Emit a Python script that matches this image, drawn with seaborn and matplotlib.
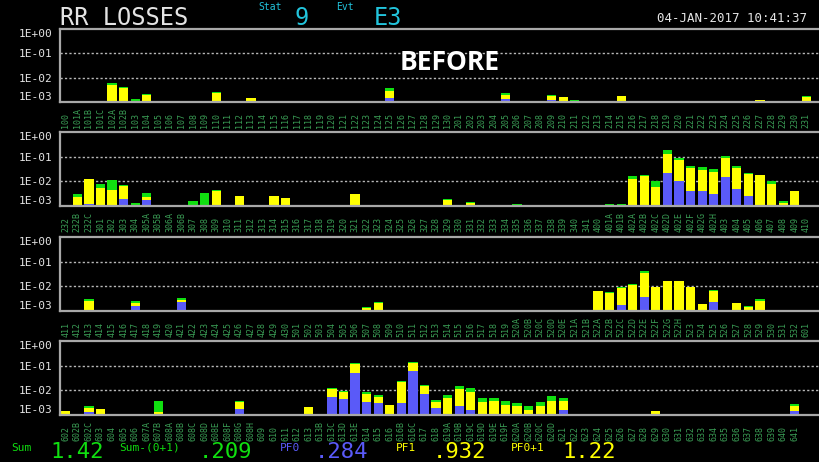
import numpy as np
import pandas as pd
import matplotlib
matplotlib.use("Agg")
import matplotlib.pyplot as plt
from matplotlib.ticker import NullLocator
import seaborn as sns


def seq(a, b):
    return [str(i) for i in range(a, b + 1)]


def lettered(base, letters):
    return [base + c for c in letters]


# ---- channel names of each row -------------------------------------------
P1_LABELS = (["100"] + lettered("101", "ABC") + lettered("102", "AB")
             + seq(103, 130) + seq(201, 231))
P2_LABELS = (["232", "232B", "232C"] + seq(301, 304) + lettered("305", "AB")
             + lettered("306", "AB") + seq(307, 341) + ["400"]
             + lettered("401", "AB") + lettered("402", "ABCDEFGH") + seq(403, 410))
P3_LABELS = (seq(411, 430) + seq(501, 519) + lettered("520", "ABCDE")
             + lettered("521", "AB") + lettered("522", "ABCDEFGH")
             + seq(523, 532) + ["601"])
P4_LABELS = (["602", "602B", "602C"] + seq(603, 606) + lettered("607", "AB")
             + lettered("608", "ABCDEFGH") + seq(609, 613) + lettered("613", "BCDE")
             + ["614", "615", "616", "616B", "616C", "617", "618"]
             + lettered("619", "ABCDEF") + lettered("620", "ABCD") + seq(621, 641))

# ---- losses per channel: total, PF0+PF1, PF0 --------------------------------
P1_COLS = ["102A", "102B", "103", "104", "110", "113", "125", "205", "209",
           "210", "211", "215", "227", "231"]
P1_SUM = [5.7e-3, 4.1e-3, 1.25e-3, 2.1e-3, 2.6e-3, 1.42e-3, 3.55e-3, 2.2e-3,
          1.89e-3, 1.52e-3, 1.17e-3, 1.72e-3, 1.17e-3, 1.77e-3]
P1_PF01 = [5.0e-3, 3.7e-3, 0, 1.9e-3, 2.4e-3, 1.42e-3, 2.8e-3, 1.89e-3,
           1.8e-3, 1.52e-3, 1.08e-3, 1.72e-3, 1.17e-3, 1.52e-3]
P1_PF0 = [0, 0, 0, 0, 0, 0, 1.38e-3, 1.25e-3, 1.17e-3, 0, 0, 0, 0, 0]

P2_COLS = ["232B", "232C", "301", "302", "303", "304", "305A", "307", "308",
           "309", "311", "314", "315", "321", "327", "329", "331", "335",
           "401A", "401B", "402A", "402B", "402C", "402D", "402E", "402F",
           "402G", "402H", "403", "404", "405", "406", "407", "408", "409"]
P2_SUM = [3.2e-3, 1.2e-2, 8.1e-3, 1.1e-2, 7.4e-3, 1.28e-3, 3.5e-3, 1.58e-3,
          3.5e-3, 4.4e-3, 2.6e-3, 2.6e-3, 2.15e-3, 3.2e-3, 1.1e-3, 1.9e-3,
          1.49e-3, 1.24e-3, 1.24e-3, 1.2e-3, 1.74e-2, 1.9e-2, 1.0e-2, 0.19,
          0.089, 0.044, 0.037, 0.032, 0.11, 0.044, 0.022, 0.0186, 0.0105,
          1.63e-3, 4.1e-3]
P2_PF01 = [2.4e-3, 1.2e-2, 5.4e-3, 4.6e-3, 6.5e-3, 0, 2.36e-3, 0,
           0, 4.2e-3, 2.5e-3, 2.5e-3, 2.15e-3, 3.1e-3, 0, 1.7e-3,
           1.35e-3, 0, 0, 0, 1.28e-2, 1.7e-2, 5.9e-3, 0.128,
           0.076, 0.034, 0.0293, 0.025, 0.089, 0.034, 0.0196, 0.0175, 8.1e-3,
           1.35e-3, 4.0e-3]
P2_PF0 = [0, 1.2e-3, 0, 0, 2.0e-3, 0, 1.74e-3, 0,
          0, 0, 0, 0, 0, 0, 0, 0,
          0, 0, 0, 0, 0, 0, 0, 0.0215,
          0.01, 4.1e-3, 4.1e-3, 3.0e-3, 0.0149, 4.8e-3, 2.6e-3, 0, 0,
          0, 0]

P3_COLS = ["413", "417", "421", "422", "427", "507", "508", "511", "522A",
           "522B", "522C", "522D", "522E", "522F", "522G", "522H", "523",
           "524", "525", "527", "528", "529"]
P3_SUM = [2.9e-3, 2.4e-3, 3.2e-3, 1.07e-3, 1.08e-3, 1.38e-3, 2.3e-3, 1.07e-3,
          6.6e-3, 5.8e-3, 9.4e-3, 1.2e-2, 0.0417, 9.6e-3, 0.0168, 0.0168,
          9.6e-3, 1.95e-3, 7.3e-3, 2.1e-3, 1.5e-3, 2.9e-3]
P3_PF01 = [2.47e-3, 2.1e-3, 2.7e-3, 1.07e-3, 0, 1.3e-3, 2.0e-3, 0,
           6.2e-3, 5.5e-3, 8.1e-3, 1.12e-2, 0.0357, 9.0e-3, 0.0158, 0.0158,
           9.0e-3, 1.8e-3, 6.3e-3, 2.05e-3, 1.4e-3, 2.5e-3]
P3_PF0 = [0, 1.6e-3, 2.3e-3, 1.07e-3, 0, 0, 0, 0,
          0, 0, 1.7e-3, 0, 3.7e-3, 0, 0, 0,
          0, 0, 2.3e-3, 0, 0, 0]

P4_COLS = ["602", "602C", "603", "607B", "608G", "613", "613C", "613D",
           "613E", "614", "615", "616", "616B", "616C", "617", "618", "619A",
           "619B", "619C", "619D", "619E", "619F", "620A", "620B", "620C",
           "620D", "621", "627", "629", "641"]
P4_SUM = [1.5e-3, 2.3e-3, 1.8e-3, 3.7e-3, 3.8e-3, 2.1e-3, 0.0123, 9.8e-3,
          0.129, 8.4e-3, 6.5e-3, 2.6e-3, 0.0229, 0.141, 0.0168, 3.98e-3, 6.5e-3,
          0.0153, 0.0123, 4.8e-3, 5.1e-3, 3.7e-3, 3.1e-3, 2.4e-3, 3.3e-3,
          5.8e-3, 4.8e-3, 1.07e-3, 1.5e-3, 2.8e-3]
P4_PF01 = [1.46e-3, 1.99e-3, 1.76e-3, 1.36e-3, 3.3e-3, 2.06e-3, 0.0112, 8.9e-3,
           0.117, 7.2e-3, 5.6e-3, 2.56e-3, 0.0209, 0.124, 0.0153, 3.5e-3, 4.8e-3,
           0.0115, 8.4e-3, 3.5e-3, 3.8e-3, 2.56e-3, 2.26e-3, 1.6e-3, 2.33e-3,
           3.7e-3, 3.8e-3, 0, 1.46e-3, 2.4e-3]
P4_PF0 = [0, 1.36e-3, 0, 0, 1.76e-3, 0, 5.6e-3, 4.4e-3,
          0.0503, 3.3e-3, 3.2e-3, 0, 3.2e-3, 0.0625, 7.2e-3, 1.99e-3, 0,
          2.33e-3, 1.6e-3, 0, 0, 0, 0, 0, 0,
          0, 1.6e-3, 0, 0, 1.4e-3]

Y_TICKS = [1.0, 0.1, 0.01, 0.001]
Y_TICK_LABELS = ["1E+00", "1E-01", "1E-02", "1E-03"]

# ---- colours ---------------------------------------------------------------
BG = "#000000"
GREEN = "#10e010"
YELLOW = "#ffff00"
BLUE = "#5a5af8"
FRAME = "#a8a8a8"
GRID = "#b8b8b8"
TICK_GREEN = "#3a9d55"
CYAN = "#22c4dc"
LIGHT = "#e4e4e4"

sns.set_theme(style="dark", rc={
    "figure.facecolor": BG,
    "axes.facecolor": BG,
    "savefig.facecolor": BG,
})
plt.rcParams["font.family"] = ["DejaVu Sans Mono", "DejaVu Sans"]

W, H = 819, 462
fig = plt.figure(figsize=(W / 100, H / 100), dpi=100)

ROWS = [
    (29.3, 101.7, P1_LABELS, P1_COLS, P1_SUM, P1_PF01, P1_PF0),
    (132.3, 206.0, P2_LABELS, P2_COLS, P2_SUM, P2_PF01, P2_PF0),
    (237.3, 310.7, P3_LABELS, P3_COLS, P3_SUM, P3_PF01, P3_PF0),
    (341.0, 415.0, P4_LABELS, P4_COLS, P4_SUM, P4_PF01, P4_PF0),
]

LEFT = 60
for top, bottom, labels, cols, tot, pf01, pf0 in ROWS:
    ax = fig.add_axes([LEFT / W, 1 - bottom / H, (W - LEFT) / W, (bottom - top) / H])
    df = pd.DataFrame({"channel": cols, "sum": tot, "pf01": pf01, "pf0": pf0})
    # total behind, PF0+PF1 in front of it, PF0 in front
    for key, color in (("sum", GREEN), ("pf01", YELLOW), ("pf0", BLUE)):
        d = df[df[key] > 0]
        if d.empty:
            continue
        sns.barplot(data=d, x="channel", y=key, order=labels, color=color,
                    saturation=1, width=0.8, errorbar=None, log_scale=True,
                    linewidth=0, ax=ax)
    ax.set_yscale("log")
    ax.set_ylim(1e-3, 1.0)
    ax.set_xlim(-0.5, 65.1)
    ax.set_xlabel("")
    ax.set_ylabel("")
    ax.grid(False)
    for v in (0.1, 0.01):
        ax.axhline(v, color=GRID, lw=1.0, ls=(0, (1.6, 1.6)), zorder=0.5)

    ax.yaxis.set_minor_locator(NullLocator())
    ax.set_yticks(Y_TICKS, Y_TICK_LABELS)
    ax.tick_params(axis="y", length=0, pad=5.5, labelsize=8, labelcolor=LIGHT)
    for lbl in ax.get_yticklabels():
        if lbl.get_text() == "1E+00":
            lbl.set_verticalalignment("top")
        elif lbl.get_text() == "1E-03":
            lbl.set_verticalalignment("bottom")
        lbl.set_fontfamily("DejaVu Sans Mono")

    ax.xaxis.set_minor_locator(NullLocator())
    ax.set_xticks(range(len(labels)), labels, rotation=90, rotation_mode="anchor",
                  ha="left", va="center", fontsize=6, color=TICK_GREEN,
                  fontfamily="DejaVu Sans Mono")
    ax.tick_params(axis="x", length=0, pad=18.8)

    for side in ("left", "top", "bottom"):
        ax.spines[side].set_color(FRAME)
        ax.spines[side].set_linewidth(1.6)
        ax.spines[side].set_visible(True)
    ax.spines["right"].set_visible(False)


def put(x, y, s, **kw):
    fig.text(x / W, 1 - y / H, s, **kw)


# ---- header ----------------------------------------------------------------
put(60, 25, "RR LOSSES", fontsize=17, color=LIGHT, va="baseline", ha="left")
put(270, 10, "Stat", fontsize=7, color=CYAN, va="baseline", ha="center")
put(302, 25, "9", fontsize=17, color=CYAN, va="baseline", ha="center")
put(345, 10, "Evt", fontsize=7, color=CYAN, va="baseline", ha="center")
put(388, 25, "E3", fontsize=17, color=CYAN, va="baseline", ha="center")
put(732, 22, "04-JAN-2017 10:41:37", fontsize=9, color=LIGHT, va="baseline",
    ha="center")
put(450, 63, "BEFORE", fontsize=19, color="white", fontweight="bold",
    family=["Open Sans", "DejaVu Sans"], va="center", ha="center")

# ---- totals ----------------------------------------------------------------
put(21, 443, "Sum", fontsize=8, color=GREEN, va="top", ha="center")
put(77, 458, "1.42", fontsize=16, color=GREEN, va="baseline", ha="center")
put(150, 443, "Sum-(0+1)", fontsize=8, color=GREEN, va="top", ha="center")
put(225, 458, ".209", fontsize=16, color=GREEN, va="baseline", ha="center")
put(290, 443, "PF0", fontsize=8, color=BLUE, va="top", ha="center")
put(342, 458, ".284", fontsize=16, color=BLUE, va="baseline", ha="center")
put(406, 443, "PF1", fontsize=8, color=YELLOW, va="top", ha="center")
put(460, 458, ".932", fontsize=16, color=YELLOW, va="baseline", ha="center")
put(528, 443, "PF0+1", fontsize=8, color=YELLOW, va="top", ha="center")
put(589, 458, "1.22", fontsize=16, color=YELLOW, va="baseline", ha="center")

fig.savefig("out.png", dpi=100)
